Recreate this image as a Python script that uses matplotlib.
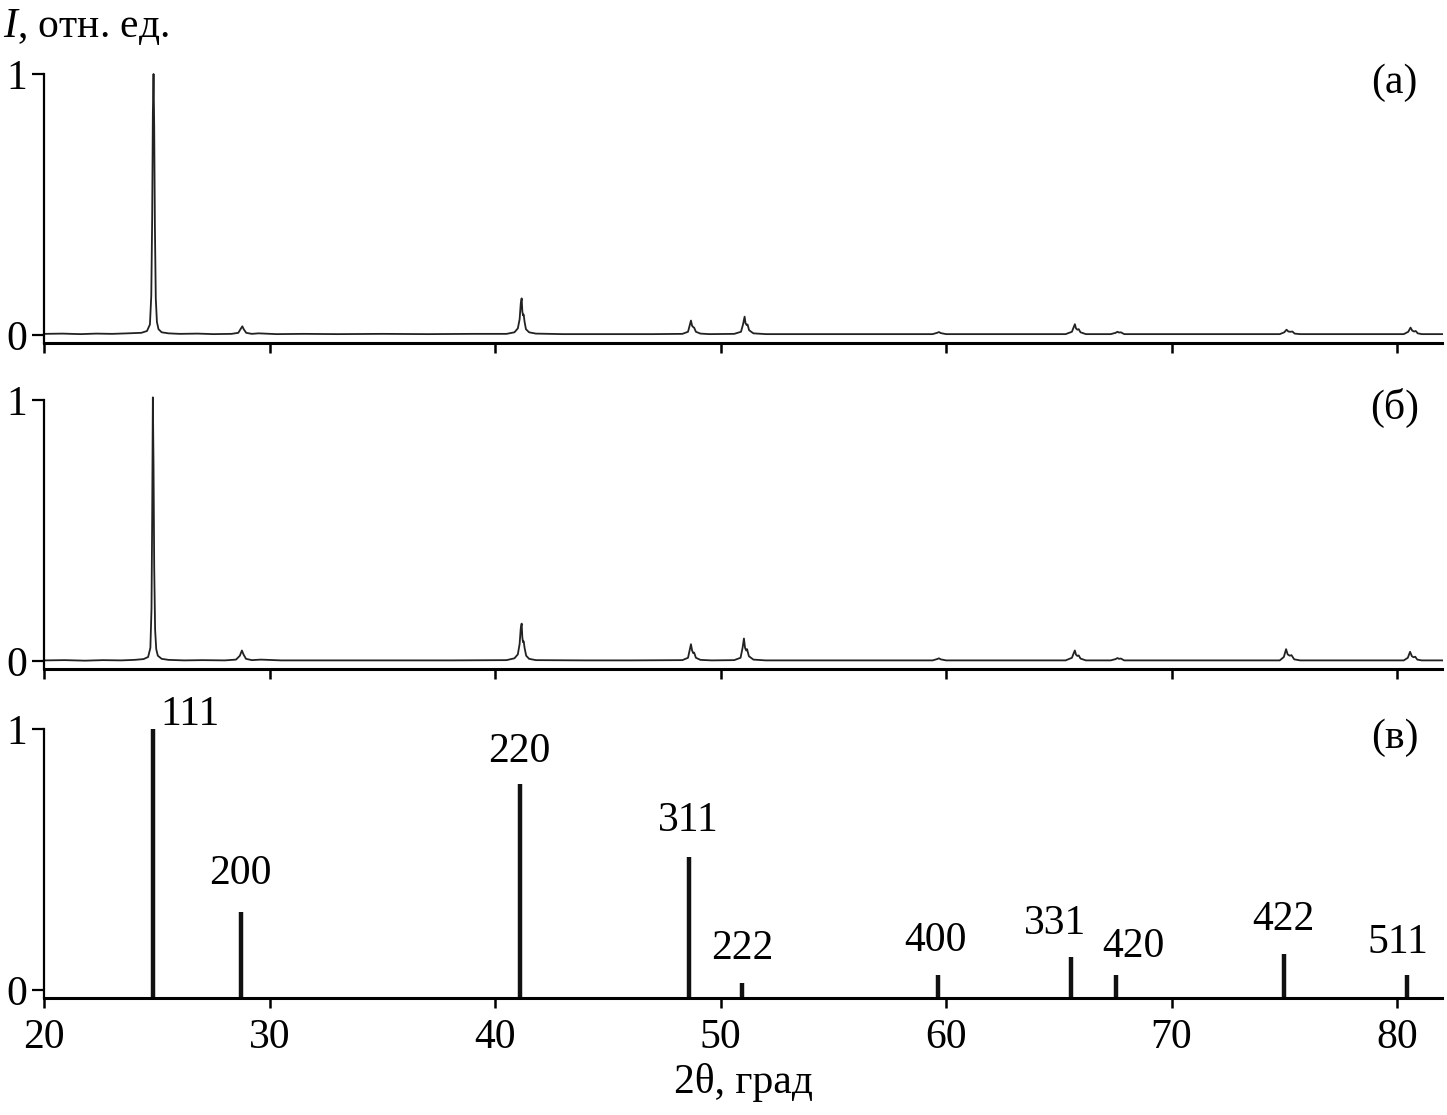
import numpy as np
import matplotlib.pyplot as plt

plt.rcParams['font.family'] = ['Liberation Serif', 'DejaVu Serif']
plt.rcParams['mathtext.fontset'] = 'custom'
plt.rcParams['mathtext.rm'] = 'Liberation Serif'
plt.rcParams['mathtext.it'] = 'Liberation Serif:italic'

spec_a = [
    (20.0, 0.004), (20.8, 0.005), (21.6, 0.003), (22.3, 0.005), (23.0, 0.004), (23.7, 0.006),
    (24.3, 0.008), (24.55, 0.015), (24.68, 0.04), (24.74, 0.15), (24.78, 0.45), (24.81, 0.85),
    (24.84, 1.0), (24.87, 0.80), (24.90, 0.42), (24.94, 0.14), (24.99, 0.05), (25.06, 0.022),
    (25.2, 0.010), (25.5, 0.006), (26.0, 0.004), (26.8, 0.005), (27.5, 0.003), (28.3, 0.004),
    (28.6, 0.008), (28.72, 0.025), (28.78, 0.033), (28.84, 0.022), (28.95, 0.008), (29.2, 0.004),
    (29.5, 0.006), (30.3, 0.003), (31.5, 0.004), (33.0, 0.003), (35.0, 0.004), (37.0, 0.003),
    (39.0, 0.004), (40.5, 0.004), (40.85, 0.01), (41.0, 0.025), (41.08, 0.06), (41.13, 0.12),
    (41.17, 0.14), (41.2, 0.09), (41.23, 0.075), (41.26, 0.078), (41.3, 0.05), (41.36, 0.022),
    (41.5, 0.01), (41.8, 0.005), (43.0, 0.003), (45.0, 0.003), (47.0, 0.003), (48.3, 0.004),
    (48.55, 0.012), (48.62, 0.035), (48.68, 0.055), (48.73, 0.035), (48.78, 0.03), (48.82, 0.028),
    (48.9, 0.012), (49.1, 0.005), (49.5, 0.003), (50.6, 0.004), (50.9, 0.012), (50.99, 0.04),
    (51.06, 0.07), (51.1, 0.045), (51.15, 0.038), (51.19, 0.04), (51.26, 0.018), (51.45, 0.006),
    (52.0, 0.003), (54.0, 0.003), (56.0, 0.003), (58.0, 0.003), (59.4, 0.003), (59.6, 0.008),
    (59.68, 0.011), (59.76, 0.007), (60.0, 0.003), (62.0, 0.003), (64.0, 0.003), (65.3, 0.003),
    (65.58, 0.012), (65.66, 0.03), (65.71, 0.041), (65.76, 0.025), (65.82, 0.02), (65.88, 0.022),
    (65.96, 0.01), (66.2, 0.003), (67.3, 0.003), (67.52, 0.008), (67.6, 0.012), (67.67, 0.009),
    (67.75, 0.01), (67.9, 0.003), (69.0, 0.003), (71.0, 0.003), (73.0, 0.003), (74.8, 0.003),
    (75.0, 0.01), (75.1, 0.02), (75.18, 0.013), (75.27, 0.012), (75.36, 0.013), (75.46, 0.005),
    (75.7, 0.003), (77.0, 0.003), (79.0, 0.003), (80.3, 0.003), (80.5, 0.012), (80.6, 0.028),
    (80.68, 0.016), (80.76, 0.013), (80.83, 0.015), (80.92, 0.006), (81.1, 0.003), (82.0, 0.003),
]

spec_b = [
    (20.0, 0.002), (20.9, 0.003), (21.8, 0.001), (22.6, 0.003), (23.4, 0.002), (24.0, 0.004),
    (24.4, 0.007), (24.6, 0.015), (24.7, 0.05), (24.75, 0.2), (24.78, 0.55), (24.81, 1.01),
    (24.84, 0.75), (24.87, 0.36), (24.91, 0.12), (24.96, 0.045), (25.03, 0.02), (25.2, 0.008),
    (25.5, 0.004), (26.2, 0.002), (27.0, 0.003), (28.0, 0.002), (28.5, 0.005), (28.67, 0.02),
    (28.76, 0.04), (28.83, 0.025), (28.94, 0.008), (29.2, 0.003), (29.6, 0.005), (30.5, 0.002),
    (32.0, 0.002), (34.0, 0.002), (36.0, 0.002), (38.0, 0.002), (40.5, 0.003), (40.85, 0.01),
    (41.0, 0.025), (41.08, 0.065), (41.13, 0.125), (41.17, 0.143), (41.2, 0.09), (41.23, 0.072),
    (41.26, 0.075), (41.3, 0.05), (41.37, 0.02), (41.5, 0.008), (41.8, 0.003), (44.0, 0.002),
    (46.0, 0.002), (48.3, 0.003), (48.55, 0.012), (48.62, 0.04), (48.68, 0.064), (48.73, 0.04),
    (48.78, 0.03), (48.82, 0.032), (48.9, 0.012), (49.1, 0.004), (49.6, 0.002), (50.6, 0.003),
    (50.88, 0.012), (50.97, 0.05), (51.03, 0.086), (51.08, 0.05), (51.13, 0.04), (51.17, 0.045),
    (51.25, 0.018), (51.45, 0.005), (52.0, 0.002), (54.0, 0.002), (56.0, 0.002), (58.0, 0.002),
    (59.4, 0.002), (59.6, 0.007), (59.68, 0.01), (59.76, 0.006), (60.0, 0.002), (62.0, 0.002),
    (64.0, 0.002), (65.3, 0.002), (65.58, 0.012), (65.66, 0.03), (65.71, 0.04), (65.76, 0.024),
    (65.82, 0.019), (65.88, 0.021), (65.96, 0.009), (66.2, 0.002), (67.3, 0.002), (67.52, 0.007),
    (67.6, 0.011), (67.67, 0.008), (67.75, 0.009), (67.9, 0.002), (69.0, 0.002), (71.0, 0.002),
    (73.0, 0.002), (74.8, 0.002), (74.98, 0.015), (75.08, 0.045), (75.15, 0.025), (75.24, 0.02),
    (75.32, 0.022), (75.44, 0.006), (75.7, 0.002), (77.0, 0.002), (79.0, 0.002), (80.3, 0.002),
    (80.48, 0.012), (80.58, 0.035), (80.66, 0.018), (80.74, 0.014), (80.81, 0.016), (80.9, 0.005),
    (81.1, 0.002), (82.0, 0.002),
]

# reference pattern (в)
hkl = ['111', '200', '220', '311', '222', '400', '331', '420', '422', '511']
ref_pos = [24.80, 28.70, 41.09, 48.60, 50.94, 59.64, 65.55, 67.52, 74.99, 80.45]
ref_int = [1.0, 0.30, 0.79, 0.51, 0.027, 0.058, 0.127, 0.058, 0.138, 0.058]
# label offsets from the stick top (dx in deg, dy in rel. units)
hkl_off = [(1.66, 0.015), (0.0, 0.105), (-0.03, 0.083), (-0.04, 0.098), (0.02, 0.092),
           (-0.1, 0.092), (-0.74, 0.088), (0.8, 0.069), (-0.02, 0.092), (-0.42, 0.084)]

panel_names = ['(а)', '(б)', '(в)']
xticks = [20, 30, 40, 50, 60, 70, 80]

fs = 30
fig = plt.figure(figsize=(14.47, 11.15), dpi=100)
left, width = 0.0307, 0.9659
bottoms = [0.69238, 0.40, 0.10493]
height = 0.24126
axes = []
for b in bottoms:
    ax = fig.add_axes([left, b, width, height])
    ax.set_xlim(20, 82.0)
    ax.set_ylim(-0.031, 1.0)
    ax.spines['top'].set_visible(False)
    ax.spines['right'].set_visible(False)
    ax.spines['left'].set_linewidth(1.6)
    ax.spines['bottom'].set_linewidth(2.2)
    ax.set_xticks(xticks)
    ax.set_yticks([0, 1])
    ax.set_yticklabels(['0', '1'])
    ax.tick_params(axis='x', direction='out', length=7, width=1.8, labelsize=fs, pad=8)
    ax.tick_params(axis='y', direction='out', length=8.5, width=1.6, labelsize=fs, pad=4)
    axes.append(ax)

for ax, spec in zip(axes[:2], [spec_a, spec_b]):
    s = np.array(spec)
    ax.plot(s[:, 0], s[:, 1], color='#222222', lw=1.3, clip_on=False)
    ax.tick_params(axis='x', labelbottom=False)

ax = axes[2]
ybot = ax.get_ylim()[0]
ax.vlines(ref_pos, ybot, ref_int, color='#111111', lw=3.2)
for lab, x, h, (dx, dy) in zip(hkl, ref_pos, ref_int, hkl_off):
    ax.text(x + dx, h + dy, lab, ha='center', va='baseline', fontsize=fs)
ax.set_xlabel('2θ, град', fontsize=fs, labelpad=4)

for ax, name in zip(axes, panel_names):
    ax.text(79.9, 0.927, name, ha='center', va='baseline', fontsize=fs)

fig.text(0.002, 0.9668, '$I$, отн. ед.', fontsize=fs, ha='left', va='baseline')

fig.savefig('out.png', dpi=100)
